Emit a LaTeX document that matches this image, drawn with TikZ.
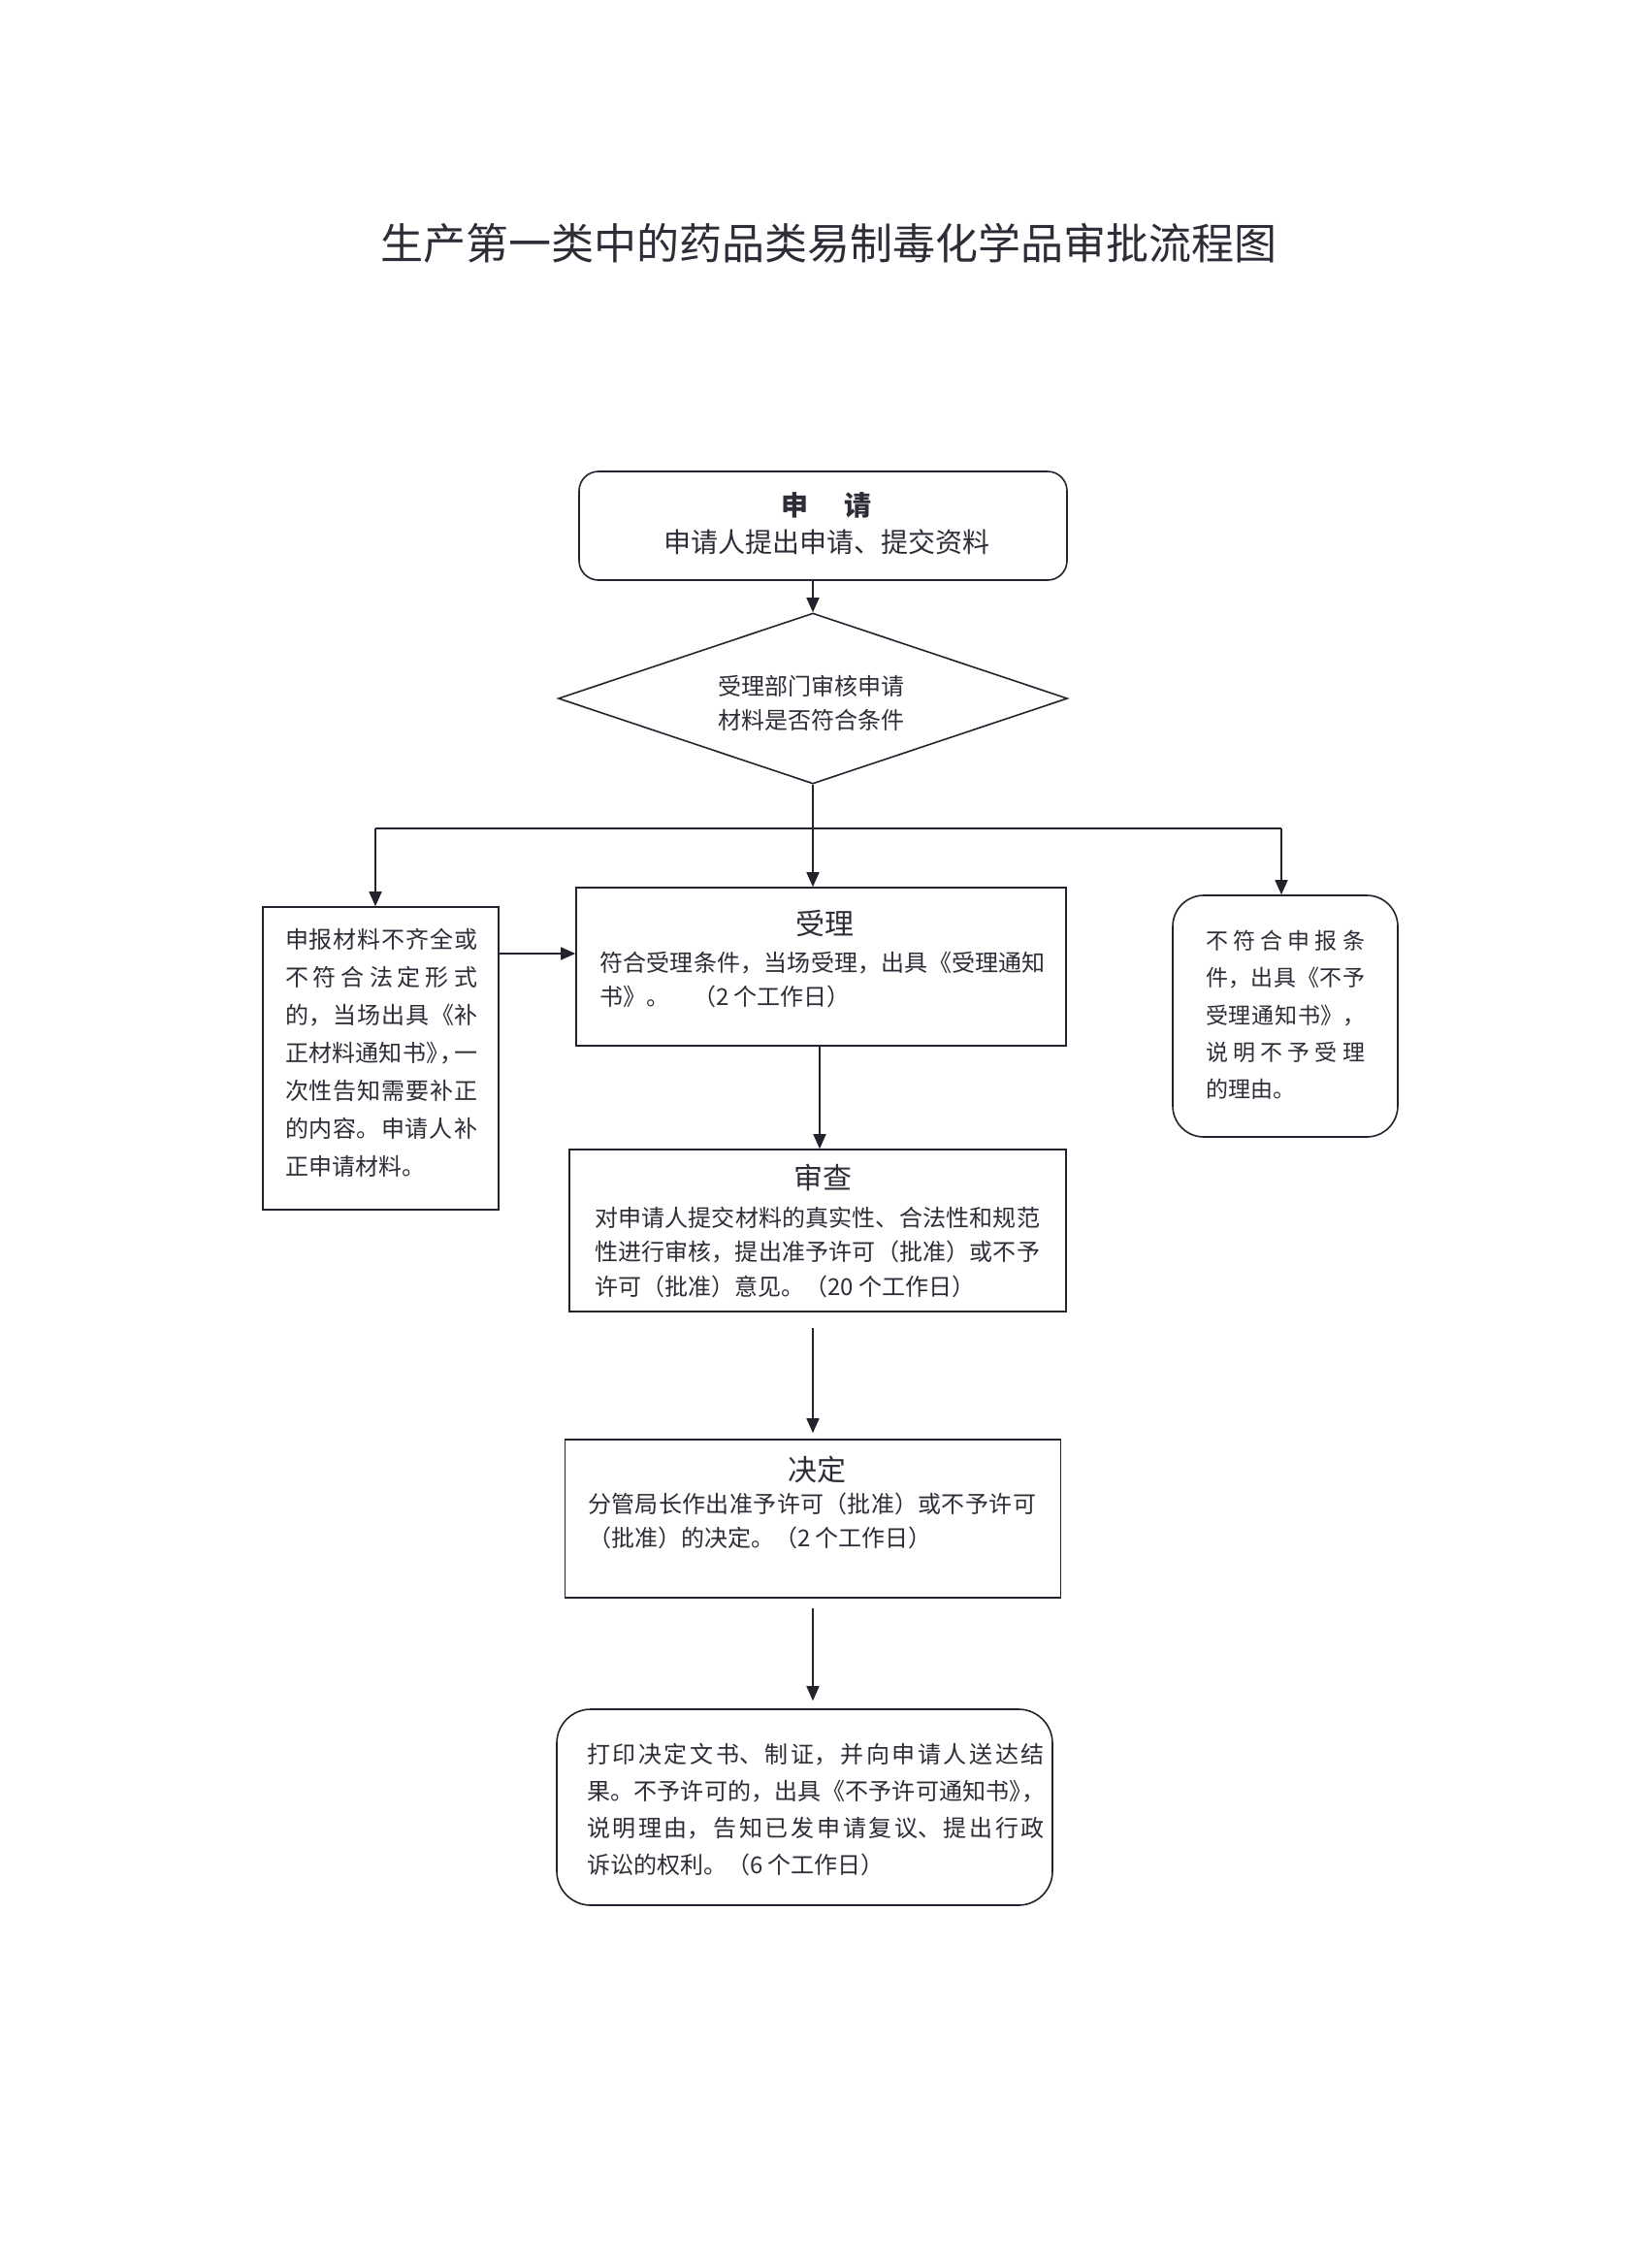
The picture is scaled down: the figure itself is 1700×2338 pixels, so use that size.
\documentclass[tikz,border=0pt]{standalone}
\usepackage{fontspec}
\setmainfont{Noto Sans CJK SC}
\usetikzlibrary{shapes.geometric,arrows.meta}
\XeTeXlinebreaklocale "zh"
\XeTeXlinebreakskip=0pt plus 8pt minus 1pt
\definecolor{ink}{RGB}{35,35,45}
\definecolor{txt}{RGB}{45,45,55}
\begin{document}
\begin{tikzpicture}[x=1pt,y=-1pt,
  box/.style={draw=ink,line width=1.6pt,inner sep=0pt},
  rbox/.style={box,rounded corners=#1},
  arr/.style={draw=ink,line width=1.6pt,-{Triangle[length=15pt,width=13pt]}},
  ln/.style={draw=ink,line width=1.6pt},
  body/.style={inner sep=0pt,text=txt,align=justify},
  ttl/.style={inner sep=0pt,text=txt,font=\fontsize{30}{30}\selectfont}]
\useasboundingbox[fill=white] (0,0) rectangle (1700,2338);

% title
\node[inner sep=0pt,text=txt,font=\fontsize{44}{44}\selectfont] (title) at (854,251) {生产第一类中的药品类易制毒化学品审批流程图};

% boxes
\node[rbox=20pt, minimum width=503pt, minimum height=112pt] (apply) at (848.5,542) {};
\node[box, diamond, aspect=2.98, minimum width=525pt, minimum height=176pt] (dia) at (838,720) {};
\node[box, minimum width=243pt, minimum height=312pt] (lbox) at (392.5,1091) {};
\node[box, minimum width=505pt, minimum height=163pt] (sl) at (846.5,996.5) {};
\node[rbox=32pt, minimum width=232pt, minimum height=249pt] (rbox) at (1325,1047.5) {};
\node[box, minimum width=512pt, minimum height=167pt] (sh) at (843,1268.5) {};
\node[box, minimum width=511pt, minimum height=163pt] (jd) at (838,1565.5) {};
\node[rbox=35pt, minimum width=511pt, minimum height=202pt] (fin) at (829.5,1863) {};

% texts
\node[inner sep=0pt,text=txt,font=\bfseries\fontsize{28}{28}\selectfont] (t1) at (852,521) {申\hspace{1.3em}请};
\node[inner sep=0pt,text=txt,font=\fontsize{28}{28}\selectfont] (s1) at (852,559) {申请人提出申请、提交资料};

\node[inner sep=0pt,text=txt,align=center,font=\fontsize{24}{35}\selectfont] (dt) at (836,725) {受理部门审核申请\\材料是否符合条件};

\node[body,text width=198pt,font=\fontsize{24}{39}\selectfont] (lt) at (393,1085) {申报材料不齐全或\linebreak 不符合法定形式\linebreak 的，当场出具《补\linebreak 正材料通知书》\kern-0.4em，\kern-0.4em 一\linebreak 次性告知需要补正\linebreak 的内容。申请人补\linebreak 正申请材料。};

\node[body,text width=164pt,font=\fontsize{23}{38.3}\selectfont] (rt) at (1325,1046.5) {不符合申报条\linebreak 件，出具《不予\linebreak 受理通知书》，\linebreak 说明不予受理\linebreak 的理由。};

\node[ttl] (slt) at (850,952) {受理};
\node[body,text width=460pt,font=\fontsize{24}{35}\selectfont] (slb) at (848,1009.5) {符合受理条件，当场受理，出具《受理通知\linebreak 书》。\hspace{1em}（2 个工作日）};

\node[ttl] (sht) at (848,1214) {审查};
\node[body,text width=459pt,font=\fontsize{24}{35.5}\selectfont] (shb) at (842.5,1290.5) {对申请人提交材料的真实性、合法性和规范\linebreak 性进行审核，提出准予许可（批准）或不予\linebreak 许可（批准）意见。（20 个工作日）};

\node[ttl] (jdt) at (842,1515) {决定};
\node[body,text width=462pt,font=\fontsize{24}{35}\selectfont] (jdb) at (837,1567.5) {分管局长作出准予许可（批准）或不予许可\linebreak （批准）的决定。（2 个工作日）};

\node[body,text width=472pt,font=\fontsize{24}{38}\selectfont] (fb) at (841,1865) {打印决定文书、制证，并向申请人送达结\linebreak 果。不予许可的，出具《不予许可通知书》\kern-0.5em，\linebreak 说明理由，告知已发申请复议、提出行政\linebreak 诉讼的权利。（6 个工作日）};

% connectors
\draw[arr] (apply.south -| dia.north) -- (dia.north);
\coordinate (jy) at (0,854);
\coordinate (jl) at ([xshift=-5.5pt]lbox.north |- jy);
\coordinate (jr) at ([xshift=-4pt]rbox.north |- jy);
\draw[ln] (jl) -- (jr);
\draw[arr] (dia.south) -- (dia.south |- sl.north);
\draw[arr] (jl) -- (jl |- lbox.north);
\draw[arr] (jr) -- (jr |- rbox.north);
\coordinate (la) at ([yshift=108pt]lbox.east);
\draw[arr] (la) -- (la -| sl.west);
\draw[arr] ([xshift=-1.5pt]sl.south) -- ([xshift=-1.5pt]sl.south |- sh.north);
\coordinate (a3) at ([yshift=-16pt]sh.south);
\draw[arr,shorten >=6pt] (a3 -| jd.north) -- (jd.north);
\coordinate (a4) at ([yshift=-10pt]jd.south);
\draw[arr,shorten >=8pt] (a4) -- (a4 |- fin.north);
\end{tikzpicture}
\end{document}
